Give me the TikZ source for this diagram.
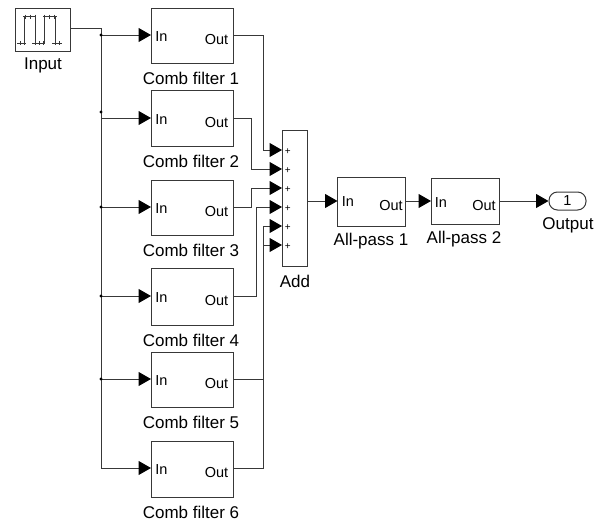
\documentclass[tikz,border=0pt]{standalone}
\usepackage{fontspec}
\setmainfont{Liberation Sans}
\usetikzlibrary{arrows.meta,calc}
\definecolor{ln}{gray}{0.22}
\tikzset{
  x=1pt,y=-1pt,
  blk/.style={draw=ln,line width=1pt,fill=white,anchor=north west,inner sep=0pt,outer sep=0pt},
  lbl/.style={font=\fontsize{17}{18}\selectfont,anchor=center,inner sep=0pt},
  prt/.style={font=\fontsize{14.5}{16}\selectfont,anchor=center,inner sep=0pt},
  wire/.style={draw=ln,line width=1pt,-{Triangle[length=12.5pt,width=14pt,color=black]}},
  bare/.style={draw=ln,line width=1pt},
  jn/.style={circle,fill=black,inner sep=0pt,minimum size=3.4pt},
  plus/.style={font=\fontsize{10}{10}\selectfont,inner sep=0pt}
}
\newcommand{\combf}[5]{% name, top, bottom, port y, label
  \node[blk,minimum width=82pt,minimum height=#3pt-#2pt] (#1) at (151,#2) {};
  \coordinate (#1in) at (151,#4);
  \coordinate (#1out) at (233,#4);
  \node[prt] (#1i) at (161.5,#4+1.5) {In};
  \node[prt] (#1o) at (216.5,#4+5) {Out};
  \node[lbl] (#1l) at (191,#3+15) {#5};
}
\begin{document}
\begin{tikzpicture}
\useasboundingbox (0,0) rectangle (600,522);
\fill[white] (0,0) rectangle (600,522);
% input
\node[blk,minimum width=55pt,minimum height=42.5pt] (input) at (15.5,8.5) {};
\coordinate (inputout) at (70.5,28);
\node[lbl] (inputl) at (43,65.5) {Input};
\draw[ln,line width=0.9pt]
  (17,43)--(26,43) (24,43)--(24,16.5) (23,16.5)--(36,16.5) (35,16.5)--(35,43)
  (32,43)--(45,43) (44,43)--(44,16.5) (43,16.5)--(57,16.5) (55.5,16.5)--(55.5,43) (52,43)--(62,43);
\draw[ln,line width=0.6pt]
  \foreach \x in {20,24,35,39,43,55,59}{(\x,41)--(\x,45)}
  \foreach \x in {25,30,35,44,49,54}{(\x,14.5)--(\x,18.5)};
% comb filters
\combf{c1}{8}{63}{35}{Comb filter 1}
\combf{c2}{90}{146}{118}{Comb filter 2}
\combf{c3}{180}{235}{207}{Comb filter 3}
\combf{c4}{268}{325}{296}{Comb filter 4}
\combf{c5}{352}{407}{379}{Comb filter 5}
\combf{c6}{441}{497}{468}{Comb filter 6}
% add
\node[blk,minimum width=25pt,minimum height=136pt] (add) at (282,130) {};
\foreach \n/\y in {1/150,2/169,3/188,4/207,5/226,6/245}{
  \coordinate (a\n) at (282,\y);
  \node[plus] (p\n) at (287.7,\y+1.5) {+};
}
\coordinate (addout) at (307,201);
\node[lbl] (addl) at (295,281) {Add};
% all-pass
\node[blk,minimum width=68pt,minimum height=49pt] (ap1) at (337.5,177) {};
\coordinate (ap1in) at (337.5,201);
\coordinate (ap1out) at (405.5,201);
\node[prt] (ap1i) at (348,202) {In};
\node[prt] (ap1o) at (391,206) {Out};
\node[lbl] (ap1l) at (371,241) {All-pass 1};
\node[blk,minimum width=68pt,minimum height=46pt] (ap2) at (431,178) {};
\coordinate (ap2in) at (431,201);
\coordinate (ap2out) at (499,201);
\node[prt] (ap2i) at (441,203) {In};
\node[prt] (ap2o) at (484,206) {Out};
\node[lbl] (ap2l) at (464,239) {All-pass 2};
% output
\node[draw=ln,line width=1pt,rounded corners=8.5pt,minimum width=37pt,minimum height=18pt,inner sep=0pt,font=\fontsize{14.5}{16}\selectfont] (outp) at (567.5,201) {1};
\node[lbl] (outl) at (568,225) {Output};
% connectors
\coordinate (trunkt) at (101,28);
\coordinate (j1) at (101,35);
\coordinate (j2) at (101,112);
\coordinate (j2b) at (101,118);
\coordinate (j3) at (101,207);
\coordinate (j4) at (101,296);
\coordinate (j5) at (101,379);
\coordinate (j6) at (101,468);
\draw[bare] (inputout) -- (trunkt) -- (j6);
\draw[wire] (j1) -- (c1in);
\draw[wire] (j2b) -- (c2in);
\draw[wire] (j3) -- (c3in);
\draw[wire] (j4) -- (c4in);
\draw[wire] (j5) -- (c5in);
\draw[wire] (j6) -- (c6in);
\foreach \j in {j1,j2,j3,j4,j5}{\node[jn] at (\j) {};}
\draw[wire] (c1out) -| (263,150) -- (a1);
\draw[wire] (c2out) -| (251,169) -- (a2);
\draw[wire] (c3out) -| (251,188) -- (a3);
\draw[wire] (c4out) -| (256,207) -- (a4);
\draw[wire] (c5out) -| (263,226) -- (a5);
\draw[wire] (c6out) -| (263,245) -- (a6);
\draw[wire] (addout) -- (ap1in);
\draw[wire] (ap1out) -- (ap2in);
\draw[wire] (ap2out) -- (outp.west);
\end{tikzpicture}
\end{document}
